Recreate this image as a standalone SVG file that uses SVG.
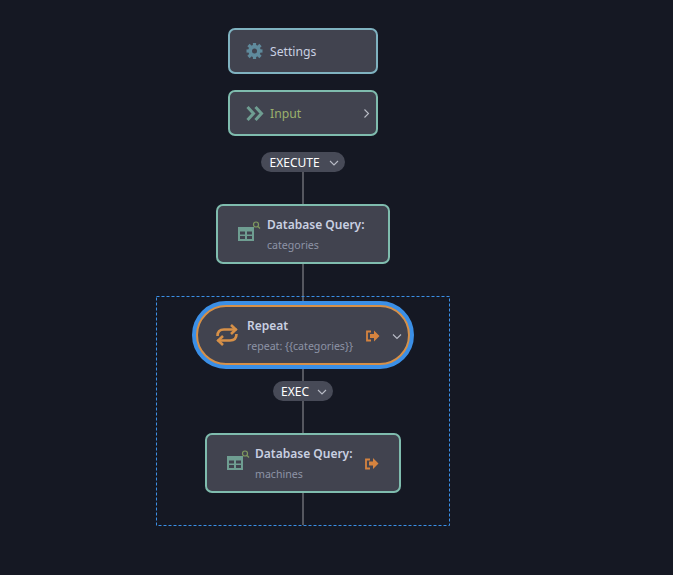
<svg xmlns="http://www.w3.org/2000/svg" width="673" height="575" viewBox="0 0 673 575">
<style>
text{font-family:"Noto Sans","Open Sans","Liberation Sans",sans-serif}
.card{fill:#41434f;stroke-width:2}
.teal{stroke:#7fbcae}
.title{font-size:12px;font-weight:600;fill:#c9d0e2}
.sub{font-size:10.600px;fill:#8d93a6}
.pill{fill:#474a57}
.pt{font-size:12px;fill:#fff}
.chev{fill:none;stroke:#b9bcc6;stroke-width:1.100}
.tbl{fill:#6f9e92}
.mag{fill:none;stroke:#7f9a5f;stroke-width:1.200}
.exit{fill:none;stroke:#d5833f;stroke-width:1.800}
.exitf{fill:#d5833f}
</style>
<rect width="673" height="575" fill="#151823"/>
<g id="connectors">
<line x1="303" y1="172" x2="303" y2="205" stroke="#55575f" stroke-width="2"/>
<line x1="303" y1="263" x2="303" y2="525" stroke="#55575f" stroke-width="2"/>
</g>
<rect id="group-box" x="156.500" y="296.500" width="293" height="229" fill="none" stroke="#3b8fe6" stroke-width="1" stroke-dasharray="3 2"/>
<g id="settings">
<rect class="card" x="229" y="29" width="148" height="44" rx="6" stroke="#7fb2c0"/>
<circle cx="254.500" cy="51" r="6.200" fill="#5f8a9c"/>
<g stroke="#5f8a9c" stroke-width="3.200">
<line x1="254.500" y1="43" x2="254.500" y2="59"/>
<line x1="246.500" y1="51" x2="262.500" y2="51"/>
<line x1="248.500" y1="45" x2="260.500" y2="57"/>
<line x1="248.500" y1="57" x2="260.500" y2="45"/>
</g>
<circle cx="254.500" cy="51" r="2.500" fill="#41434f"/>
<text x="270" y="55.500" font-size="12.200" fill="#c9d0e2">Settings</text>
</g>
<g id="input">
<rect class="card teal" x="229" y="91" width="148" height="44" rx="6"/>
<path d="M247.500 107l6 6.500-6 6.500M255.500 107l6 6.500-6 6.500" fill="none" stroke="#6f9e92" stroke-width="3"/>
<text x="270" y="118" font-size="12.200" fill="#9bb06c">Input</text>
<path d="M364.500 109.500l4 4-4 4" class="chev"/>
</g>
<g id="execute">
<rect class="pill" x="261" y="152" width="84" height="20" rx="10"/>
<text class="pt" x="269.500" y="166.500">EXECUTE</text>
<path d="M330 161l4 4 4-4" class="chev"/>
</g>
<g id="db-categories">
<rect class="card teal" x="217" y="205" width="172" height="58" rx="6"/>
<path class="tbl" fill-rule="evenodd" d="M238 227h16v14h-16zM240 231.500v3h5v-3zM247 231.500v3h5v-3zM240 236v3h5v-3zM247 236v3h5v-3z"/>
<circle class="mag" cx="256" cy="224.500" r="2.500"/><line class="mag" x1="258" y1="226.500" x2="260" y2="228.500"/>
<text class="title" x="267" y="229">Database Query:</text>
<text class="sub" x="267" y="249">categories</text>
</g>
<g id="repeat">
<rect x="194" y="303" width="218" height="64" rx="32" fill="#3b8fe6" stroke="#3b8fe6" stroke-width="4"/>
<rect class="card" x="197" y="306" width="212" height="58" rx="29" stroke="#d69048"/>
<g fill="none" stroke="#d69048" stroke-width="2.600">
<path d="M217.500 336c0-5 2.500-6.500 6.500-6.500h12.500"/><path d="M231 325l4.800 4.500-4.800 4.500"/>
<path d="M236.500 334c0 5-2.500 6.500-6.500 6.500h-12.500"/><path d="M223 336l-4.800 4.500 4.800 4.500"/>
</g>
<text class="title" x="247" y="330">Repeat</text>
<text class="sub" x="247" y="350">repeat: {{categories}}</text>
<path class="exit" d="M371 331.500h-4v9h4"/><path class="exitf" d="M370 334h4v-3.500l5.500 5.500-5.500 5.500v-3.500h-4z"/>
<path d="M393 334.500l4 4 4-4" class="chev"/>
</g>
<g id="exec">
<rect class="pill" x="273" y="381" width="60" height="20" rx="10"/>
<text class="pt" x="281" y="395.500">EXEC</text>
<path d="M318 390l4 4 4-4" class="chev"/>
</g>
<g id="db-machines">
<rect class="card teal" x="206" y="434" width="194" height="58" rx="6"/>
<path class="tbl" fill-rule="evenodd" d="M227 456h16v14h-16zM229 460.500v3h5v-3zM236 460.500v3h5v-3zM229 465v3h5v-3zM236 465v3h5v-3z"/>
<circle class="mag" cx="245" cy="453.500" r="2.500"/><line class="mag" x1="247" y1="455.500" x2="249" y2="457.500"/>
<text class="title" x="255" y="458">Database Query:</text>
<text class="sub" x="255" y="478">machines</text>
<path class="exit" d="M370 459.500h-4v9h4"/><path class="exitf" d="M369 461.500h4v-3.500l5.500 5.500-5.500 5.500v-3.500h-4z"/>
</g>
</svg>
